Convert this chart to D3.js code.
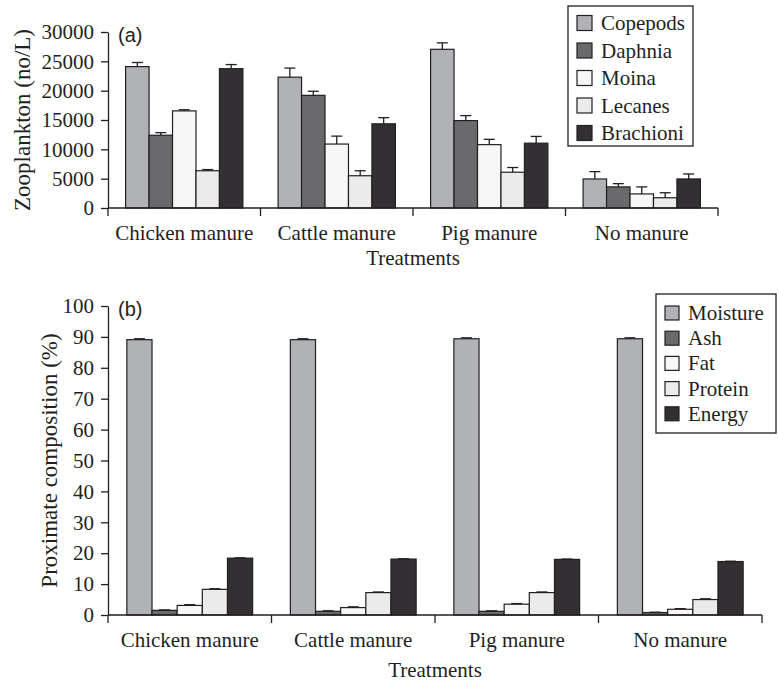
<!DOCTYPE html>
<html>
<head>
<meta charset="utf-8">
<script src="https://cdn.jsdelivr.net/npm/d3@7"></script>
<style>
  body { margin: 0; background: #fff; }
  svg { display: block; }
  text { fill: #231f20; }
</style>
</head>
<body>
<div id="chart"></div>
<script>
// categories shared by both panels
const treatments = ["Chicken manure", "Cattle manure", "Pig manure", "No manure"];

// panel (a): zooplankton counts (no/L), mean and upper error
const zooSeries = ["Copepods", "Daphnia", "Moina", "Lecanes", "Brachioni"];
const copepods = [24100, 22300, 27050, 4950];
const copepodsErr = [700, 1550, 1100, 1250];
const daphnia = [12400, 19200, 14900, 3600];
const daphniaErr = [450, 700, 850, 550];
const moina = [16550, 10900, 10800, 2400];
const moinaErr = [200, 1350, 900, 1200];
const lecanes = [6350, 5500, 6100, 1750];
const lecanesErr = [200, 850, 800, 850];
const brachioni = [23750, 14350, 11050, 4950];
const brachioniErr = [700, 1050, 1150, 850];
const zooTicks = [0, 5000, 10000, 15000, 20000, 25000, 30000];

// panel (b): proximate composition (%)
const proxSeries = ["Moisture", "Ash", "Fat", "Protein", "Energy"];
const moisture = [89.1, 89.1, 89.4, 89.4];
const moistureErr = [0.3, 0.3, 0.3, 0.3];
const ash = [1.5, 1.2, 1.2, 0.8];
const ashErr = [0.15, 0.15, 0.15, 0.1];
const fat = [3.1, 2.4, 3.5, 1.85];
const fatErr = [0.25, 0.25, 0.2, 0.2];
const protein = [8.3, 7.25, 7.25, 5.0];
const proteinErr = [0.2, 0.2, 0.2, 0.25];
const energy = [18.4, 18.1, 18.0, 17.3];
const energyErr = [0.1, 0.1, 0.1, 0.1];
const proxTicks = [0, 10, 20, 30, 40, 50, 60, 70, 80, 90, 100];

const fills = ["#b1b2b6", "#6a6a6c", "#f7f7f7", "#ebebeb", "#323032"];
const ink = "#231f20";
const serif = "Liberation Serif, Times New Roman, serif";
const sans = "Liberation Sans, Arial, sans-serif";

const svg = d3.select("#chart")
  .append("svg")
    .attr("width", 779)
    .attr("height", 681);

function drawPanel(p) {
  const g = svg.append("g");

  const x = d3.scaleBand()
    .domain(treatments)
    .range([p.left, p.right])
    .padding(0);

  const x1 = d3.scaleBand()
    .domain(p.series)
    .range([0, x.bandwidth()])
    .paddingInner(0)
    .paddingOuter(0.75);

  const y = d3.scaleLinear()
    .domain([0, p.max])
    .range([p.bottom, p.top]);

  const color = d3.scaleOrdinal()
    .domain(p.series)
    .range(fills);

  // flatten values into rows
  const rows = [];
  treatments.forEach((t, i) => {
    p.series.forEach((s, j) => {
      rows.push({treat: t, series: s, value: p.values[j][i], err: p.errors[j][i]});
    });
  });

  // bars
  g.append("g")
    .selectAll("rect")
    .data(rows)
    .enter()
    .append("rect")
      .attr("x", d => x(d.treat) + x1(d.series))
      .attr("y", d => y(d.value))
      .attr("width", x1.bandwidth())
      .attr("height", d => y(0) - y(d.value))
      .style("fill", d => color(d.series))
      .style("stroke", ink)
      .style("stroke-width", 1.2);

  // upper error bars
  const eb = g.append("g")
    .selectAll("g")
    .data(rows)
    .enter()
    .append("g")
      .attr("transform", d => "translate(" + (x(d.treat) + x1(d.series) + x1.bandwidth() / 2) + ",0)");
  eb.append("line")
      .attr("x1", 0).attr("x2", 0)
      .attr("y1", d => y(d.value))
      .attr("y2", d => y(d.value + d.err))
      .style("stroke", ink)
      .style("stroke-width", 1.3);
  eb.append("line")
      .attr("x1", -5.5).attr("x2", 5.5)
      .attr("y1", d => y(d.value + d.err))
      .attr("y2", d => y(d.value + d.err))
      .style("stroke", ink)
      .style("stroke-width", 1.3);

  // Y axis
  const yAxis = g.append("g")
    .attr("transform", "translate(" + p.left + ",0)")
    .call(d3.axisLeft(y)
      .tickValues(p.ticks)
      .tickFormat(d3.format("d"))
      .tickSize(7).tickSizeOuter(0).tickPadding(7));
  yAxis.attr("font-family", serif).attr("font-size", 21);
  yAxis.selectAll("text")
    .attr("font-family", serif)
    .style("font-size", "21px")
    .style("fill", ink);
  yAxis.selectAll("line, path").style("stroke", ink).style("stroke-width", 1.3);

  // X axis: ticks on category boundaries
  const xa = g.append("g");
  xa.append("line")
      .attr("x1", p.left).attr("x2", p.right)
      .attr("y1", y(0)).attr("y2", y(0))
      .style("stroke", ink).style("stroke-width", 1.3);
  const bounds = treatments.map(t => x(t)).concat([x.range()[1]]);
  xa.selectAll("line.tick")
    .data(bounds)
    .enter()
    .append("line")
      .attr("class", "tick")
      .attr("x1", d => d).attr("x2", d => d)
      .attr("y1", y(0)).attr("y2", y(0) + 8)
      .style("stroke", ink).style("stroke-width", 1.3);
  xa.selectAll("text")
    .data(treatments)
    .enter()
    .append("text")
      .attr("x", d => x(d) + x.bandwidth() / 2)
      .attr("y", y(0) + 32)
      .attr("text-anchor", "middle")
      .attr("font-family", serif)
      .attr("font-size", 21)
      .text(d => d);

  // axis titles
  g.append("text")
    .attr("x", (p.left + p.right) / 2)
    .attr("y", y(0) + p.titleGap)
    .attr("text-anchor", "middle")
    .attr("font-family", serif)
    .attr("font-size", 21)
    .text("Treatments");

  g.append("text")
    .attr("transform", "translate(" + p.yTitleX + "," + (p.top + p.bottom) / 2 + ") rotate(-90)")
    .attr("text-anchor", "middle")
    .attr("font-family", serif)
    .attr("font-size", 23)
    .text(p.yTitle);

  // panel letter
  g.append("text")
    .attr("x", p.left + 10)
    .attr("y", p.top + 10)
    .attr("font-family", sans)
    .attr("font-size", 20)
    .text(p.letter);

  // legend
  const lg = g.append("g");
  lg.append("rect")
    .attr("x", p.legend.x)
    .attr("y", p.legend.y)
    .attr("width", p.legend.w)
    .attr("height", p.legend.h)
    .style("fill", "#fff")
    .style("stroke", ink)
    .style("stroke-width", 1.3);
  const item = lg.selectAll("g.item")
    .data(p.series)
    .enter()
    .append("g")
      .attr("class", "item")
      .attr("transform", (d, i) => "translate(" + (p.legend.x + 9) + "," + (p.legend.y + p.legend.first + i * p.legend.step) + ")");
  item.append("rect")
      .attr("x", 0)
      .attr("y", -p.legend.sw / 2)
      .attr("width", p.legend.sw)
      .attr("height", p.legend.sw)
      .style("fill", d => color(d))
      .style("stroke", ink)
      .style("stroke-width", 1.2);
  item.append("text")
      .attr("x", p.legend.sw + 9)
      .attr("y", 7)
      .attr("font-family", serif)
      .attr("font-size", 21)
      .text(d => d);
}

drawPanel({
  series: zooSeries,
  values: [copepods, daphnia, moina, lecanes, brachioni],
  errors: [copepodsErr, daphniaErr, moinaErr, lecanesErr, brachioniErr],
  ticks: zooTicks,
  max: 30000,
  left: 108, right: 718, top: 32, bottom: 208,
  titleGap: 57,
  yTitle: "Zooplankton (no/L)",
  yTitleX: 30,
  letter: "(a)",
  legend: {x: 568, y: 6, w: 125, h: 140, first: 17, step: 27.5, sw: 15}
});

drawPanel({
  series: proxSeries,
  values: [moisture, ash, fat, protein, energy],
  errors: [moistureErr, ashErr, fatErr, proteinErr, energyErr],
  ticks: proxTicks,
  max: 100,
  left: 108, right: 762, top: 306, bottom: 615,
  titleGap: 62,
  yTitle: "Proximate composition (%)",
  yTitleX: 57,
  letter: "(b)",
  legend: {x: 656, y: 294, w: 120, h: 139, first: 19, step: 25.2, sw: 14}
});
</script>
</body>
</html>
